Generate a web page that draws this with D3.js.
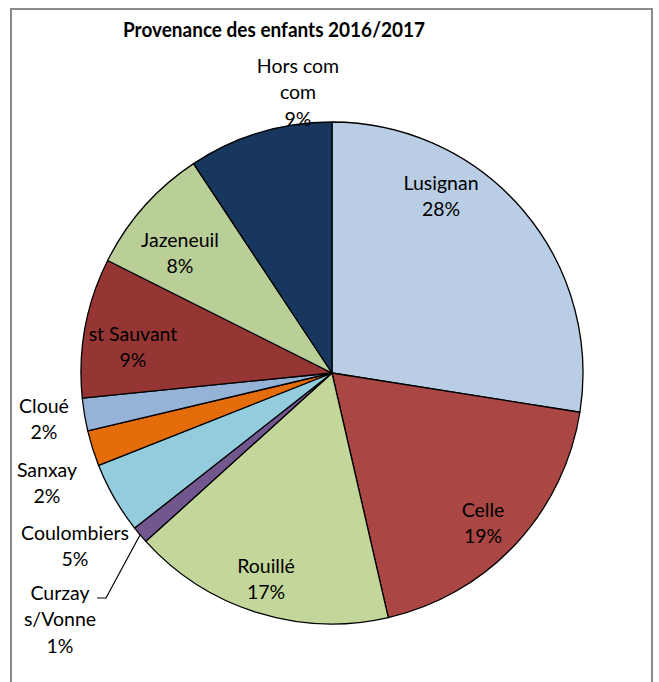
<!DOCTYPE html>
<html>
<head>
<meta charset="utf-8">
<script src="https://cdn.jsdelivr.net/npm/d3@7"></script>
<style>
  html, body { margin: 0; padding: 0; background: #fff; }
  svg { display: block; }
</style>
</head>
<body>
<div class="pie"></div>
<script>
// chart size
const width = 659;
const height = 682;

const title = "Provenance des enfants 2016/2017";

// communes, in drawing order (clockwise from 12 o'clock)
const communes = ["Lusignan", "Celle", "Rouillé", "Curzay s/Vonne", "Coulombiers",
  "Sanxay", "Cloué", "st Sauvant", "Jazeneuil", "Hors com com"];
// share of children (%)
const parts = [27.5, 18.9, 16.9, 1.1, 4.6, 2.3, 2.1, 9.0, 8.3, 9.3];
// label lines as written in the chart
const labelLines = [["Lusignan"], ["Celle"], ["Rouillé"], ["Curzay", "s/Vonne"], ["Coulombiers"],
  ["Sanxay"], ["Cloué"], ["st Sauvant"], ["Jazeneuil"], ["Hors com", "com"]];

const colors = ["#b9cde5", "#aa4644", "#c4d79b", "#72578f", "#93cddd",
  "#e46c0a", "#95b3d7", "#963634", "#bacf98", "#17375e"];

// where Excel put each label (centre of first line)
const labelPos = [[441, 183], [483, 510], [266, 566], [60, 593], [75, 533],
  [47, 470], [44, 406], [133, 334], [180, 240], [298, 66]];

const cx = 332, cy = 373, radius = 251;
const lineH = 26.5;

const svg = d3.select('.pie')
  .append('svg')
  .attr('width', width)
  .attr('height', height)
  .style('font-family', 'Lato, "Open Sans", sans-serif');

// frame of the chart area
svg.append('rect')
  .attr('x', 11)
  .attr('y', 9)
  .attr('width', 641)
  .attr('height', 700)
  .attr('fill', 'none')
  .attr('stroke', '#8a8a8a')
  .attr('stroke-width', 2);

// Calibri is narrow: squeeze the bold title to the same width
svg.append('text')
  .attr('x', 274)
  .attr('y', 37)
  .attr('text-anchor', 'middle')
  .attr('textLength', 302)
  .attr('lengthAdjust', 'spacingAndGlyphs')
  .style('font-weight', 'bold')
  .style('font-size', '21.5px')
  .attr('fill', '#000')
  .text(title);

const data = communes.map((c, i) => ({name: c, value: parts[i], color: colors[i], lines: labelLines[i], pos: labelPos[i]}));

const pie = d3.pie()
  .value(d => d.value)
  .sort(null);

const arc = d3.arc()
  .innerRadius(0)
  .outerRadius(radius);

const arcs = pie(data);

const g = svg.append('g')
  .attr('transform', `translate(${cx}, ${cy})`);

g.selectAll('path')
  .data(arcs)
  .join('path')
    .attr('d', arc)
    .attr('fill', d => d.data.color)
    .attr('stroke', '#000')
    .attr('stroke-width', 1.3)
    .attr('stroke-linejoin', 'round');

// leader line for the thin Curzay slice
const curzay = arcs[3];
const mid = (curzay.startAngle + curzay.endAngle) / 2;
const p0 = [cx + radius * Math.sin(mid), cy - radius * Math.cos(mid)];
svg.append('polyline')
  .attr('points', [p0, [106, 598], [97, 598]].map(p => p.join(',')).join(' '))
  .attr('fill', 'none')
  .attr('stroke', '#000')
  .attr('stroke-width', 1.2);

// labels: name lines + rounded percent
const labels = svg.append('g')
  .attr('text-anchor', 'middle')
  .style('font-size', '19.5px')
  .attr('fill', '#000');

labels.selectAll('text')
  .data(arcs)
  .join('text')
    .attr('x', d => d.data.pos[0])
    .attr('y', d => d.data.pos[1])
    .attr('dy', '0.35em')
    .each(function(d) {
      const t = d3.select(this);
      const lines = d.data.lines.concat([Math.round(d.data.value) + '%']);
      lines.forEach((l, i) => {
        t.append('tspan')
          .attr('x', d.data.pos[0])
          .attr('dy', i === 0 ? '0.35em' : lineH)
          .text(l);
      });
    });
</script>
</body>
</html>
